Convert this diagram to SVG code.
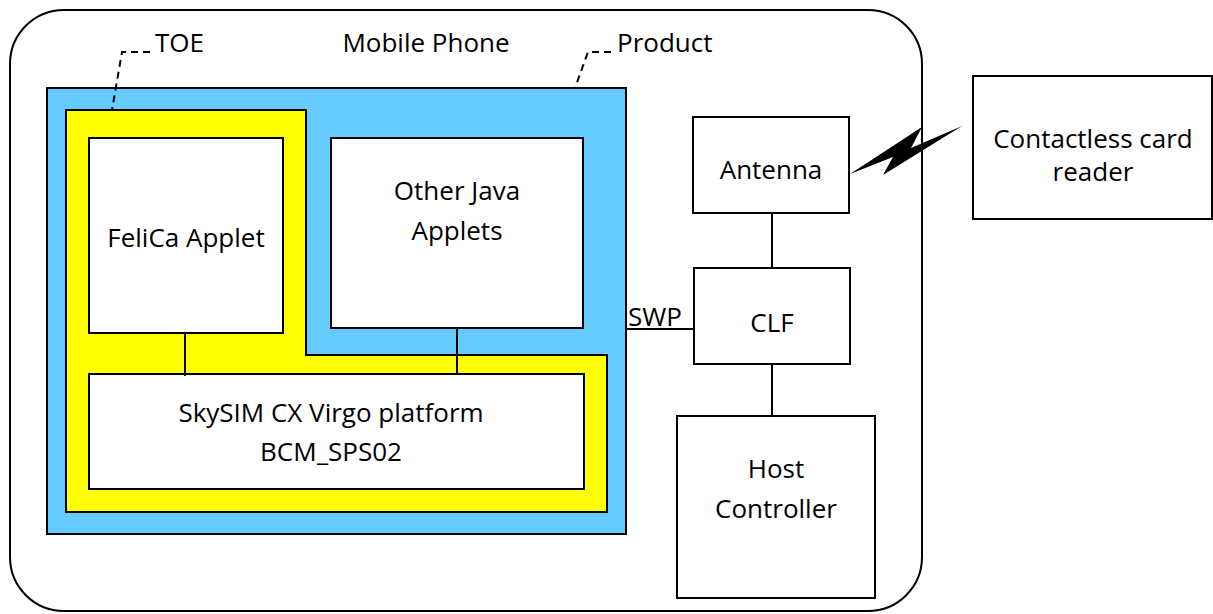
<svg xmlns="http://www.w3.org/2000/svg" width="1213" height="614" viewBox="0 0 1213 614">
<style>
text{font-family:"Open Sans","Noto Sans","DejaVu Sans",sans-serif;font-size:26px;fill:#000}
.c{text-anchor:middle}
.box{fill:#fff;stroke:#000;stroke-width:2}
.ln{stroke:#000;stroke-width:2;fill:none}
.dash{stroke:#000;stroke-width:2;fill:none;stroke-dasharray:7,5}
</style>
<rect x="0" y="0" width="1213" height="614" fill="#fff"/>
<g id="phone">
<rect x="10" y="10" width="912" height="601" rx="54" ry="54" fill="#fff" stroke="#000" stroke-width="2"/>
<text class="c" x="426" y="52">Mobile Phone</text>
</g>
<g id="product">
<rect x="47" y="88" width="579" height="446" fill="#66ccff" stroke="#000" stroke-width="2"/>
<path class="dash" d="M611,52 H588 L575,88"/>
<text x="617" y="52">Product</text>
</g>
<g id="toe">
<path d="M66,110 H306 V355 H607 V512 H66 Z" fill="#ffff00" stroke="#000" stroke-width="2"/>
<path class="dash" d="M150,52 H122 L112,110"/>
<text x="155" y="52">TOE</text>
</g>
<g id="felica">
<rect class="box" x="89" y="138" width="194" height="195"/>
<text class="c" x="186" y="247">FeliCa Applet</text>
</g>
<g id="otherjava">
<rect class="box" x="331" y="138" width="252" height="190"/>
<text class="c" x="457" y="200">Other Java</text>
<text class="c" x="457" y="240">Applets</text>
</g>
<g id="skysim">
<rect class="box" x="89" y="374" width="495" height="115"/>
<text class="c" x="331" y="422">SkySIM CX Virgo platform</text>
<text class="c" x="331" y="461">BCM_SPS02</text>
</g>
<g id="antenna">
<rect class="box" x="693" y="117" width="156" height="96"/>
<text class="c" x="771" y="179">Antenna</text>
</g>
<g id="clf">
<rect class="box" x="694" y="268" width="156" height="96"/>
<text class="c" x="772" y="332">CLF</text>
</g>
<g id="host">
<rect class="box" x="677" y="416" width="198" height="182"/>
<text class="c" x="776" y="478">Host</text>
<text class="c" x="776" y="518">Controller</text>
</g>
<g id="reader">
<rect class="box" x="973" y="76" width="239" height="143"/>
<text class="c" x="1093" y="148">Contactless card</text>
<text class="c" x="1093" y="181">reader</text>
</g>
<g id="connectors">
<line class="ln" x1="185" y1="333" x2="185" y2="376"/>
<line class="ln" x1="457" y1="328" x2="457" y2="374"/>
<line class="ln" x1="626" y1="329" x2="694" y2="329"/>
<text x="628" y="326">SWP</text>
<line class="ln" x1="772" y1="213" x2="772" y2="268"/>
<line class="ln" x1="772" y1="364" x2="772" y2="416"/>
<polygon points="850,174 922,127 911,148 962,126 883,175 893,157" fill="#000"/>
</g>
</svg>
